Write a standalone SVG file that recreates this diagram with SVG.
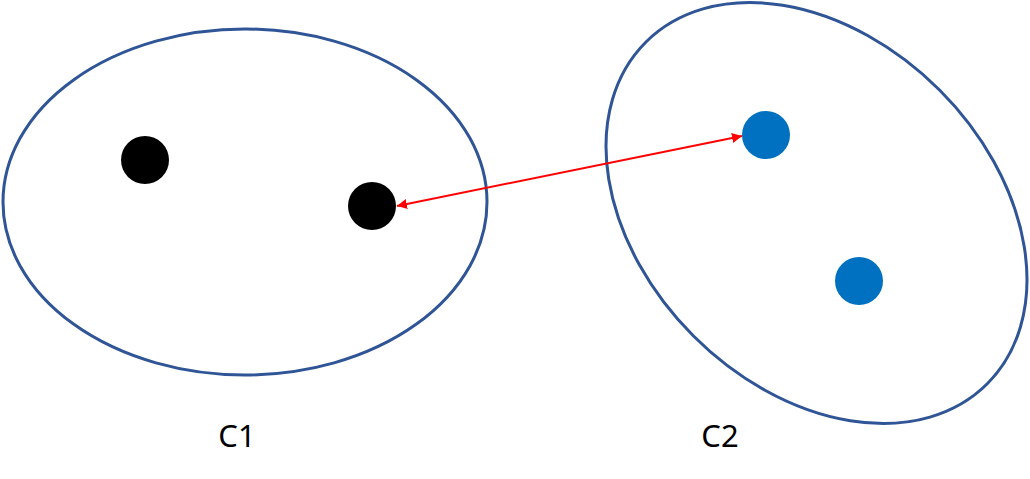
<svg xmlns="http://www.w3.org/2000/svg" width="1030" height="479" viewBox="0 0 1030 479">
<defs>
<style>
.cl{fill:none;stroke:#2F5597;stroke-width:3}
.pk{fill:#000}
.pb{fill:#0070C0}
.lb{font-family:"Noto Sans","Open Sans",sans-serif;font-size:31px;fill:#000;text-anchor:middle}
.ed{stroke:#FF0000;stroke-width:2;fill:none}
</style>
<marker id="ah" viewBox="0 0 10 10" refX="10" refY="5" markerWidth="10" markerHeight="10" markerUnits="userSpaceOnUse" orient="auto-start-reverse">
<path d="M0,0 L10,5 L0,10 Z" fill="#FF0000"/>
</marker>
</defs>
<rect width="1030" height="479" fill="#fff"/>
<g id="cluster-c1">
<ellipse class="cl" cx="245" cy="202" rx="242" ry="173"/>
<text class="lb" x="237" y="447">C1</text>
</g>
<g id="cluster-c2">
<ellipse class="cl" cx="816.5" cy="213" rx="241.5" ry="174" transform="rotate(45 816.5 213)"/>
<text class="lb" x="720" y="447">C2</text>
</g>
<g id="p1"><circle class="pk" cx="145" cy="160" r="24"/></g>
<g id="p2"><circle class="pk" cx="372" cy="206" r="24"/></g>
<g id="p3"><circle class="pb" cx="766" cy="135" r="24"/></g>
<g id="p4"><circle class="pb" cx="859" cy="281" r="24"/></g>
<g id="connectors">
<line class="ed" x1="397" y1="206" x2="742" y2="136" marker-start="url(#ah)" marker-end="url(#ah)"/>
</g>
</svg>
